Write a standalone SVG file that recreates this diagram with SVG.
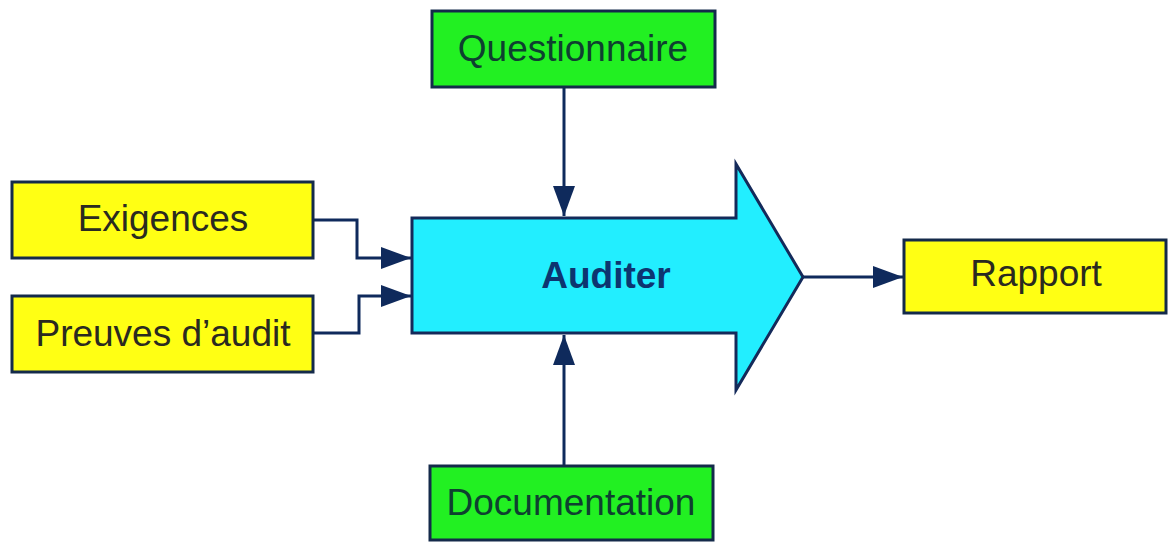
<svg xmlns="http://www.w3.org/2000/svg" width="1168" height="542" viewBox="0 0 1168 542">
<style>
.box{stroke:#142a4a;stroke-width:3}
.g{fill:#22f022}
.y{fill:#ffff14}
.t{font-family:"Liberation Sans",Arial,sans-serif;font-size:37px;text-anchor:middle}
.tg{fill:#0e4030}
.ty{fill:#2a2a20}
.c{fill:none;stroke:#0f2a5c;stroke-width:3}
</style>
<defs>
<marker id="ah" viewBox="0 0 30 22" refX="30" refY="11" markerWidth="30" markerHeight="22" markerUnits="userSpaceOnUse" orient="auto">
<path d="M0,0 L30,11 L0,22 Z" fill="#0f2a5c"/>
</marker>
</defs>
<rect width="1168" height="542" fill="#ffffff"/>
<g id="connectors">
<path class="c" d="M564,87 V216" marker-end="url(#ah)"/>
<path class="c" d="M564,466 V335" marker-end="url(#ah)"/>
<path class="c" d="M313,220 H357 V258 H411" marker-end="url(#ah)"/>
<path class="c" d="M313,333 H359 V296 H411" marker-end="url(#ah)"/>
<path class="c" d="M803,277 H903" marker-end="url(#ah)"/>
</g>
<g id="auditer">
<path d="M412,218 H736 V164 L803,277 L736,390 V333 H412 Z" fill="#22eeff" stroke="#142a5a" stroke-width="3" stroke-linejoin="miter"/>
<text x="606" y="288" class="t" style="font-weight:bold;fill:#0d3570">Auditer</text>
</g>
<g id="questionnaire">
<rect class="box g" x="432" y="11" width="283" height="76"/>
<text x="573" y="61" class="t tg">Questionnaire</text>
</g>
<g id="exigences">
<rect class="box y" x="12" y="182" width="301" height="76"/>
<text x="163" y="231" class="t ty">Exigences</text>
</g>
<g id="preuves">
<rect class="box y" x="12" y="296" width="301" height="76"/>
<text x="163" y="346" class="t ty">Preuves d’audit</text>
</g>
<g id="rapport">
<rect class="box y" x="904" y="240" width="262" height="73"/>
<text x="1036" y="286" class="t ty">Rapport</text>
</g>
<g id="documentation">
<rect class="box g" x="430" y="466" width="283" height="74"/>
<text x="571" y="515" class="t tg">Documentation</text>
</g>
</svg>
